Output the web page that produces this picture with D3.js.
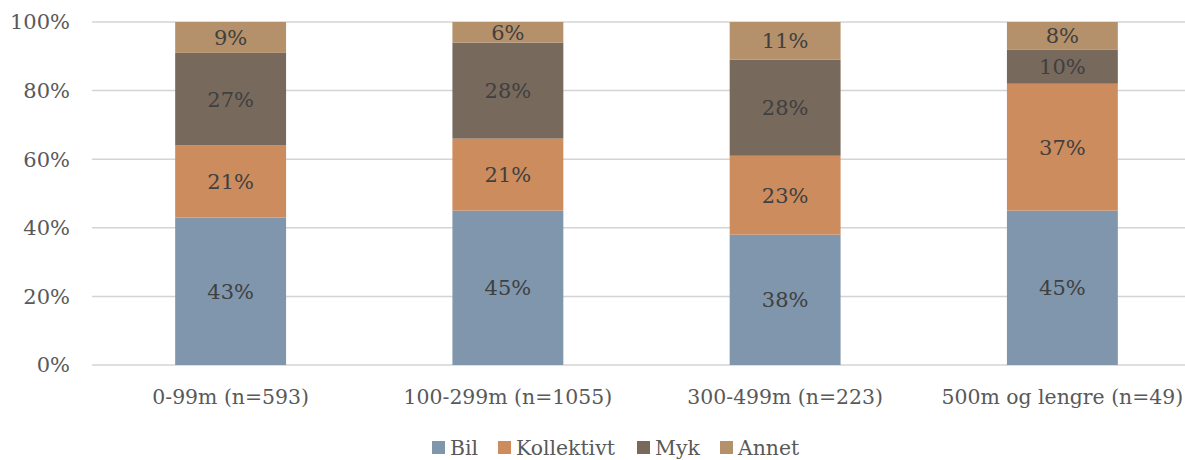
<!DOCTYPE html>
<html><head><meta charset="utf-8">
<script src="https://cdn.jsdelivr.net/npm/d3@7"></script>
<style>body{margin:0;background:#fff}svg{display:block}</style>
</head><body>
<script>
const categories = ["0-99m (n=593)", "100-299m (n=1055)", "300-499m (n=223)", "500m og lengre (n=49)"];
const seriesNames = ["Bil", "Kollektivt", "Myk", "Annet"];
const bil = [43, 45, 38, 45];
const kollektivt = [21, 21, 23, 37];
const myk = [27, 28, 28, 10];
const annet = [9, 6, 11, 8];
const yTicks = [0, 20, 40, 60, 80, 100];
const colors = ["#7f96ad", "#cc8c5e", "#78695d", "#b4916a"];

const W = 1185, H = 460;
const font = "DejaVu Serif";
const svg = d3.select("body").append("svg").attr("width", W).attr("height", H);

const rows = categories.map((c, i) => ({cat: c, Bil: bil[i], Kollektivt: kollektivt[i], Myk: myk[i], Annet: annet[i]}));
const stack = d3.stack().keys(seriesNames)(rows);

const x = d3.scaleBand().domain(categories).range([92, 1201]).paddingInner(0.6).paddingOuter(0.3);
const y = d3.scaleLinear().domain([0, 100]).range([365, 22]);

// gridlines
svg.append("g").selectAll("line").data(yTicks).join("line")
  .attr("x1", 92).attr("x2", W)
  .attr("y1", d => y(d)).attr("y2", d => y(d))
  .attr("stroke", "#d4d4d4").attr("stroke-width", 1.5);

// y tick labels
svg.append("g").selectAll("text").data(yTicks).join("text")
  .attr("x", 70).attr("y", d => y(d)).attr("dy", "0.35em")
  .attr("text-anchor", "end").attr("font-family", font).attr("font-size", 21)
  .attr("fill", "#595959").text(d => d + "%");

// bars
const g = svg.append("g");
stack.forEach((s, si) => {
  g.append("g").selectAll("rect").data(s).join("rect")
    .attr("x", d => x(d.data.cat)).attr("width", x.bandwidth())
    .attr("y", d => y(d[1])).attr("height", d => y(d[0]) - y(d[1]))
    .attr("fill", colors[si]);
  g.append("g").selectAll("text").data(s).join("text")
    .attr("x", d => x(d.data.cat) + x.bandwidth() / 2)
    .attr("y", d => (y(d[0]) + y(d[1])) / 2).attr("dy", "0.35em")
    .attr("text-anchor", "middle").attr("font-family", font).attr("font-size", 21)
    .attr("fill", "#404040").text(d => (d[1] - d[0]) + "%");
});

// x labels
svg.append("g").selectAll("text").data(categories).join("text")
  .attr("x", d => x(d) + x.bandwidth() / 2).attr("y", 397).attr("dy", "0.35em")
  .attr("text-anchor", "middle").attr("font-family", font).attr("font-size", 20.4)
  .attr("fill", "#595959").text(d => d);

// legend
const legendX = [432, 498, 637, 720];
const lg = svg.append("g");
seriesNames.forEach((n, i) => {
  lg.append("rect").attr("x", legendX[i]).attr("y", 441).attr("width", 13).attr("height", 13).attr("fill", colors[i]);
  lg.append("text").attr("x", legendX[i] + 18).attr("y", 448).attr("dy", "0.35em")
    .attr("font-family", font).attr("font-size", 20.4).attr("fill", "#595959").text(n);
});
</script>
</body></html>
